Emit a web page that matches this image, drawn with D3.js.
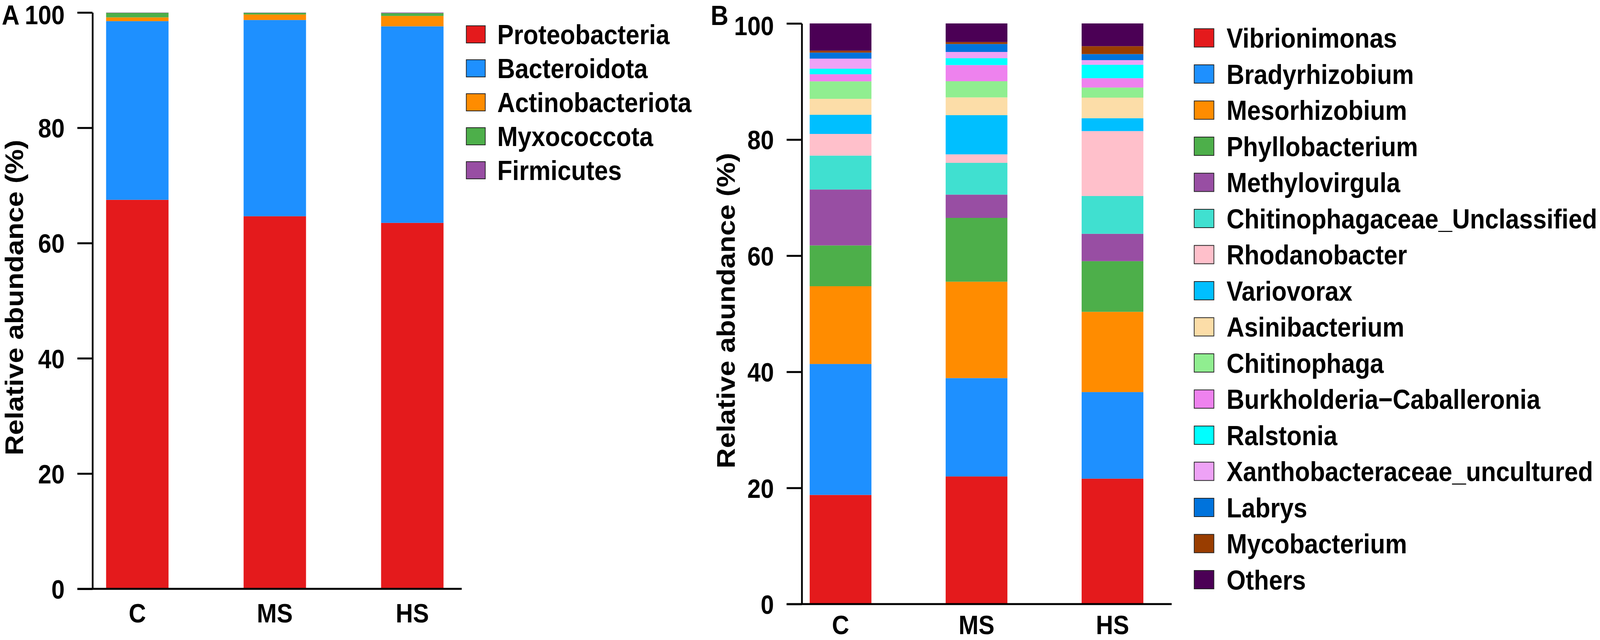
<!DOCTYPE html>
<html>
<head>
<meta charset="utf-8">
<script src="https://cdn.jsdelivr.net/npm/d3@7"></script>
<style>
  html, body { margin: 0; padding: 0; background: #fff; overflow: hidden; }
  #chart { display: block; width: 100vw; height: 100vh; }
  text { font-family: "Liberation Sans", Arial, sans-serif; font-weight: bold; fill: #000; }
</style>
</head>
<body>
<svg id="chart" viewBox="0 0 4550 1639" preserveAspectRatio="none"></svg>
<script>

// ---- data ----
const groups = ["C", "MS", "HS"]
const yTicks = [0, 20, 40, 60, 80, 100]

// panel A, phylum level
const phyla = ["Proteobacteria", "Bacteroidota", "Actinobacteriota", "Myxococcota", "Firmicutes"]
const phylaColors = ["#E41A1C", "#1E90FF", "#FF8C00", "#4DAF4A", "#984EA3"]
const phylaC  = [67.5, 31.0, 0.65, 0.8, 0.05]
const phylaMS = [64.65, 34.05, 0.95, 0.3, 0.05]
const phylaHS = [63.5, 34.1, 1.8, 0.5, 0.1]

// panel B, genus level
const genera = ["Vibrionimonas", "Bradyrhizobium", "Mesorhizobium", "Phyllobacterium",
  "Methylovirgula", "Chitinophagaceae_Unclassified", "Rhodanobacter", "Variovorax",
  "Asinibacterium", "Chitinophaga", "Burkholderia\u2212Caballeronia", "Ralstonia",
  "Xanthobacteraceae_uncultured", "Labrys", "Mycobacterium", "Others"]
const generaColors = ["#E41A1C", "#1E90FF", "#FF8C00", "#4DAF4A",
  "#984EA3", "#40E0D0", "#FFC0CB", "#00BFFF",
  "#FCDDA8", "#90EE90", "#EE82EE", "#00FFFF",
  "#EEA2F6", "#0073DC", "#993D00", "#4B0055"]
const generaC  = [18.8, 22.55, 13.39, 7.03, 9.63, 5.84, 3.73, 3.3, 2.74, 3.02, 1.22, 0.95, 1.74, 1.04, 0.33, 4.69]
const generaMS = [21.98, 16.94, 16.6, 10.99, 4.01, 5.47, 1.46, 6.75, 3.06, 2.79, 2.78, 1.18, 1.08, 1.37, 0.33, 3.21]
const generaHS = [21.6, 14.91, 13.82, 8.73, 4.71, 6.51, 11.18, 2.22, 3.54, 1.74, 1.61, 2.31, 0.8, 1.04, 1.36, 3.92]

// ---- layout for the two panels (in 4550 x 1639 drawing units) ----
const panelA = {
  letter: "A", letterX: 5, letterY: 63,
  axisX: 263, y0: 1508, y100: 32, bandRange: [195, 1368], axisEnd: 1313,
  titleX: 66,
  keyX: 1326, keyW: 54, keyH: 44, legY: 88, legStep: 87, textX: 1414
}
const panelB = {
  letter: "B", letterX: 2021, letterY: 64,
  axisX: 2280, y0: 1547, y100: 60, bandRange: [2197, 3357], axisEnd: 3332,
  titleX: 2089,
  keyX: 3396, keyW: 56, keyH: 47, legY: 97, legStep: 92.5, textX: 3488
}

const svg = d3.select("#chart")
const H = 1639

function drawPanel(p, names, colors, valueLists) {
  const rows = groups.map((g, gi) => {
    const row = { group: g }
    names.forEach((n, i) => row[n] = valueLists[gi][i])
    return row
  })

  const y = d3.scaleLinear().domain([0, 100]).range([p.y0, p.y100])
  const x = d3.scaleBand().domain(groups).range(p.bandRange)
    .paddingInner(0.546).paddingOuter(0.273)
  const color = d3.scaleOrdinal(names, colors)

  const series = d3.stack().keys(names)(rows)
  const g = svg.append("g")

  g.selectAll("g.layer")
    .data(series)
    .join("g")
      .attr("class", "layer")
      .attr("fill", d => color(d.key))
    .selectAll("rect")
    .data(d => d)
    .join("rect")
      .attr("x", d => x(d.data.group))
      .attr("y", d => y(d[1]))
      .attr("width", x.bandwidth())
      .attr("height", d => y(d[0]) - y(d[1]))

  // y axis
  const yAxis = g.append("g")
    .attr("transform", `translate(${p.axisX},0)`)
    .call(d3.axisLeft(y).tickValues(yTicks).tickSize(43).tickSizeOuter(0).tickPadding(36))
  yAxis.select(".domain").attr("stroke", "#000").attr("stroke-width", 5)
  yAxis.selectAll(".tick line").attr("stroke", "#000").attr("stroke-width", 5)
  yAxis.selectAll(".tick text")
    // top label sits a touch lower so it stays inside the page
    .attr("dy", d => y(d) - 62 < 0 ? "0.44em" : "0.36em")
    .style("font-size", "68px")
    .style("font-family", "'Liberation Sans', Arial, sans-serif")
    .style("font-weight", "bold")
  yAxis.attr("font-size", null).attr("font-family", null)

  // x baseline
  g.append("line")
    .attr("x1", p.axisX - 43).attr("x2", p.axisEnd)
    .attr("y1", p.y0).attr("y2", p.y0)
    .attr("stroke", "#000").attr("stroke-width", 5)

  g.selectAll("text.xlab")
    .data(groups)
    .join("text")
      .attr("class", "xlab")
      .attr("x", d => x(d) + x.bandwidth() / 2)
      .attr("y", Math.min(p.y0 + 86, H - 15))
      .attr("text-anchor", "middle")
      .style("font-size", "68px")
      .text(d => d)

  // axis title
  g.append("text")
    .attr("transform", `translate(${p.titleX},${(p.y0 + p.y100) / 2 - 8}) rotate(-90)`)
    .attr("text-anchor", "middle")
    .style("font-size", "72px")
    .text("Relative abundance (%)")

  // panel letter
  g.append("text")
    .attr("x", p.letterX).attr("y", p.letterY)
    .style("font-size", "70px")
    .text(p.letter)

  // legend
  const leg = g.selectAll("g.leg")
    .data(names)
    .join("g")
      .attr("class", "leg")
      .attr("transform", (d, i) => `translate(0,${p.legY + i * p.legStep})`)
  leg.append("rect")
    .attr("x", p.keyX).attr("y", -p.keyH / 2)
    .attr("width", p.keyW).attr("height", p.keyH)
    .attr("fill", d => color(d))
    .attr("stroke", "#222").attr("stroke-width", 2)
  leg.append("text")
    .attr("x", p.textX).attr("dy", "0.36em")
    .style("font-size", "70px")
    .text(d => d)
}

drawPanel(panelA, phyla, phylaColors, [phylaC, phylaMS, phylaHS])
drawPanel(panelB, genera, generaColors, [generaC, generaMS, generaHS])

</script>
</body>
</html>
